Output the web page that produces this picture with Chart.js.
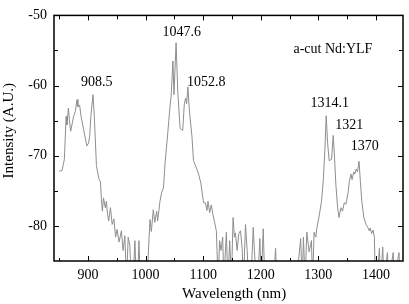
<!DOCTYPE html>
<html>
<head>
<meta charset="utf-8">
<script src="https://cdn.jsdelivr.net/npm/chart.js@4"></script>
<style>
html,body{margin:0;padding:0;background:#fff;}
#wrap{width:409px;height:304px;position:relative;}
</style>
</head>
<body>
<div id="wrap"><canvas id="c" width="409" height="304"></canvas></div>
<script>
// Wavelength (nm)
const wavelength = [
850,855,859,862,863.5,866,868,870,875,878,881,882.5,885.5,888,892.5,898,901,903,905,908.7,911,914.7,918.7,921.6,
923.4,925,927,930,932,934,936,939,942,945,948,950.5,954,958,961,964,967,969.8,972.7,975,978,981.5,984,986,988.5,991,995,1000,1003,1005,
1007.7,1010,1013.4,1016,1019.3,1021,1025,1028,1031,1034,1038.6,1042.6,1044.3,1047.5,1049.3,1053,1056,1060,1064.5,1067.3,1069.5,1071.3,1073.5,1076,1080.5,
1083.2,1089,1092,1096,1100.7,1103.7,1106.6,1108.4,1111.3,1114.1,1117,1119.9,1122.9,1124.1,1126,1128.6,1131,1133.9,1136,1140.3,1143,1146.1,1149,
1152,1154.3,1156,1159,1161.8,1164.8,1167.7,1170,1173.5,1176.4,1179,1183,1186.9,1189,1192,1195,1198.4,1201,1204.3,1207,1215,1222,1225.8,1228,1240,1250,1262,
1269.3,1272,1274.1,1277,1280,1284,1288,1290,1292.6,1295.6,1297.2,1301.4,1305.5,1308.4,1311.4,1313.6,1316,1318.8,1323,1325.8,1327.6,1330.5,1333.5,1335.8,
1339.3,1342,1345,1348,1351.9,1353.7,1356.7,1358.6,1361.4,1363.5,1365.6,1368,1370.7,1373,1375.5,1379,1382.9,1385.8,1388.5,1390,1392.6,1395,1397.3,1399,
1402,1406,1408,1411.8,1414,1420,1422,1430,1432,1440,1442,1448
];
// Intensity (A.U.)
const intensity = [
-72.2,-72.1,-70.5,-64.4,-65.6,-63.2,-65.2,-66.5,-64.4,-63.7,-62.0,-63.0,-62.8,-64.4,-66.3,-68.6,-68.2,-67.2,-64.4,-61.3,-64.4,-71.4,-73.2,-73.7,
-76.3,-77.9,-76.0,-77.4,-76.5,-78.4,-79.3,-77.4,-79.8,-79.0,-81.6,-80.5,-82.3,-80.7,-83.5,-81.4,-88,-81.6,-82.8,-88,-88,-82.1,-88,-88,-82.1,-88,-88,-88,-88,-83.5,
-79.1,-80.8,-77.7,-79.5,-77.9,-79.3,-76.5,-75.2,-74.6,-70.9,-66.7,-62.8,-61.6,-56.5,-61.3,-53.9,-61,-66.1,-66.4,-62.6,-61.8,-62.6,-60.2,-63.5,-67.2,
-70.7,-71.9,-72.6,-73.9,-76.7,-76.7,-77.8,-76.5,-78.1,-77.0,-78.4,-79.5,-80.7,-83.5,-88,-82.1,-83.5,-81.6,-88,-80.9,-88,-82.1,-88,
-78.8,-81.6,-81.0,-83.5,-81.1,-80.7,-83.2,-88,-79.8,-83.5,-88,-88,-80.2,-83.5,-88,-88,-81.8,-88,-80.4,-88,-88,-88,-83.2,-88,-88,-88,-88,
-81.8,-88,-81.6,-88,-80.9,-83.7,-82.1,-88,-80.9,-81.6,-80.4,-78.6,-76.5,-73.7,-69.1,-64.3,-68.1,-70.7,-70.5,-67.1,-69.5,-74.2,-77.4,-78.8,
-77.4,-77.9,-76.7,-76.9,-75.1,-73.7,-72.6,-73.4,-72.3,-72.6,-71.9,-72.3,-70.8,-73.7,-76.5,-78.8,-79.8,-80.2,-80.7,-80.3,-81.1,-80.6,-81.6,-88,
-88,-83.2,-88,-83.0,-88,-83.8,-88,-83.8,-88,-83.8,-88,-88
];
const xTickLabels = [900,1000,1100,1200,1300,1400];
const xMinorTicks = [850,950,1050,1150,1250,1350];
const yTickLabels = [-80,-70,-60,-50];
const yMinorTicks = [-75,-65,-55];
// Peak annotations (text, wavelength, intensity of text baseline)
const annText = ['908.5','1047.6','1052.8','a-cut Nd:YLF','1314.1','1321','1370'];
const annX = [915.2,1063,1105.4,1325.3,1320,1353.8,1380.8];
const annY = [-60.0,-52.9,-60.0,-55.4,-63.1,-66.2,-69.2];

const SERIF = '"Liberation Serif","Times New Roman",serif';

const framePlugin = {
  id: 'frame',
  afterDatasetsDraw(chart) {
    const {ctx, chartArea: a, scales: {x, y}} = chart;
    ctx.save();
    ctx.strokeStyle = '#000';
    ctx.lineWidth = 1.5;
    ctx.strokeRect(a.left, a.top, a.right - a.left, a.bottom - a.top);
    ctx.lineWidth = 1;
    const tick = (x1, y1, x2, y2) => { ctx.beginPath(); ctx.moveTo(x1, y1); ctx.lineTo(x2, y2); ctx.stroke(); };
    xTickLabels.forEach(v => { const p = Math.round(x.getPixelForValue(v)) + 0.5; tick(p, a.bottom, p, a.bottom - 5); tick(p, a.top, p, a.top + 5); });
    xMinorTicks.forEach(v => { const p = Math.round(x.getPixelForValue(v)) + 0.5; tick(p, a.bottom, p, a.bottom - 3); tick(p, a.top, p, a.top + 4); });
    yTickLabels.forEach(v => { const p = Math.round(y.getPixelForValue(v)) + 0.5; tick(a.left, p, a.left + 5, p); tick(a.right, p, a.right - 5, p); });
    yMinorTicks.forEach(v => { const p = Math.round(y.getPixelForValue(v)) + 0.5; tick(a.left, p, a.left + 4, p); tick(a.right, p, a.right - 4, p); });
    // annotations
    ctx.fillStyle = '#000';
    ctx.font = '14px ' + SERIF;
    ctx.textAlign = 'center';
    ctx.textBaseline = 'alphabetic';
    annText.forEach((t, i) => ctx.fillText(t, x.getPixelForValue(annX[i]), y.getPixelForValue(annY[i])));
    ctx.restore();
  }
};

new Chart(document.getElementById('c'), {
  type: 'line',
  data: {
    datasets: [{
      data: wavelength.map((w, i) => ({x: w, y: intensity[i]})),
      borderColor: '#8e8e8e',
      borderWidth: 1,
      pointRadius: 0,
      tension: 0,
      fill: false
    }]
  },
  options: {
    responsive: false,
    animation: false,
    layout: {padding: {top: 10, right: 6, left: 0, bottom: 0}},
    plugins: {legend: {display: false}, tooltip: {enabled: false}},
    scales: {
      x: {
        type: 'linear', position: 'bottom', min: 841, max: 1447,
        grid: {display: false, drawTicks: false}, border: {display: false},
        afterBuildTicks: s => { s.ticks = xTickLabels.map(v => ({value: v})); },
        afterFit: s => { s.height = 43; },
        ticks: {color: '#000', font: {family: SERIF, size: 14}, padding: 6, maxRotation: 0, callback: v => String(v)},
        title: {display: true, text: '\u00A0\u00A0\u00A0Wavelength (nm)', color: '#000', font: {family: SERIF, size: 15}, padding: {top: 0, bottom: 1}}
      },
      y: {
        type: 'linear', position: 'left', min: -85, max: -50,
        grid: {display: false, drawTicks: false}, border: {display: false},
        afterBuildTicks: s => { s.ticks = yTickLabels.map(v => ({value: v})); },
        afterFit: s => { s.width = 54; },
        ticks: {color: '#000', font: {family: SERIF, size: 14}, padding: 7, callback: v => String(v)},
        title: {display: true, text: '\u00A0\u00A0\u00A0\u00A0Intensity (A.U.)', color: '#000', font: {family: SERIF, size: 15}, padding: 0}
      }
    }
  },
  plugins: [framePlugin]
});
</script>
</body>
</html>
